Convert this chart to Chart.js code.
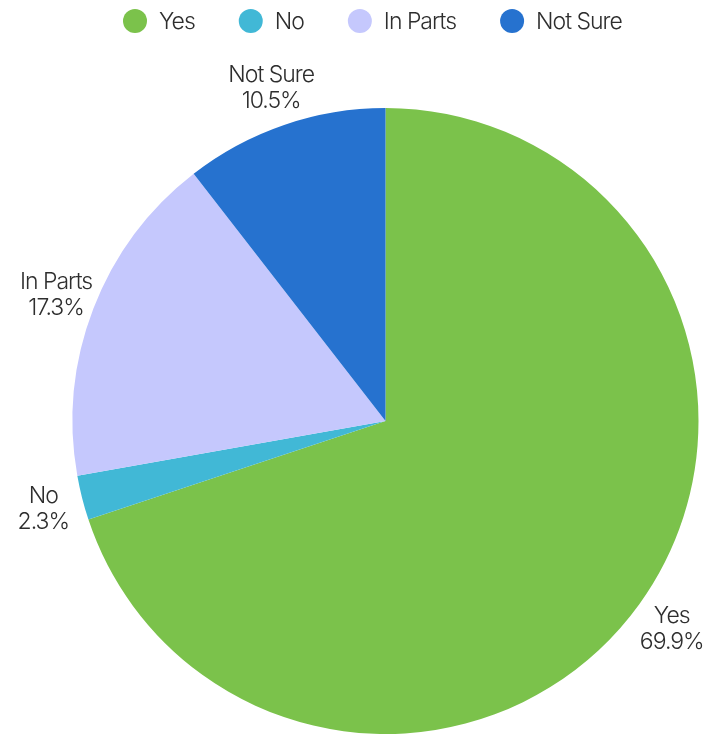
<!DOCTYPE html>
<html>
<head>
<meta charset="utf-8">
<script src="https://cdn.jsdelivr.net/npm/chart.js@4/dist/chart.umd.min.js"></script>
<style>
  html, body { margin: 0; padding: 0; background: #ffffff; }
  #wrap { width: 713px; height: 735px; }
</style>
</head>
<body>
<div id="wrap"><canvas id="answers-chart"></canvas></div>
<script>
// survey answers, share of responses in percent
const categories = ['Yes', 'No', 'In Parts', 'Not Sure'];
const shares = [69.9, 2.3, 17.3, 10.5];
const sliceColors = ['#7bc24b', '#41b8d6', '#c5c8fd', '#2672cf'];

const FONT = '300 23px Inter, "Liberation Sans", sans-serif';
const TEXT_COLOR = '#2e2e2e';

// legend row across the top: dot, name, wide gap
const legendRow = {
    id: 'legendRow',
    afterDraw(chart) {
        const ctx = chart.ctx;
        ctx.save();
        ctx.font = FONT;
        ctx.letterSpacing = '-1px';
        ctx.textBaseline = 'middle';
        ctx.textAlign = 'left';
        let x = 123;
        const y = 21;
        categories.forEach(function (name, i) {
            ctx.fillStyle = sliceColors[i];
            ctx.beginPath();
            ctx.arc(x + 12, y, 12, 0, Math.PI * 2);
            ctx.fill();
            ctx.fillStyle = TEXT_COLOR;
            ctx.fillText(name, x + 36, y + 1);
            x += 36 + ctx.measureText(name).width + 44;
        });
        ctx.restore();
    }
};

// name + percentage outside every slice, at its middle angle
const outsideLabels = {
    id: 'outsideLabels',
    afterDatasetsDraw(chart) {
        const ctx = chart.ctx;
        const arcs = chart.getDatasetMeta(0).data;
        ctx.save();
        ctx.font = FONT;
        ctx.letterSpacing = '-1px';
        ctx.fillStyle = TEXT_COLOR;
        ctx.textAlign = 'center';
        ctx.textBaseline = 'middle';
        arcs.forEach(function (arc, i) {
            const p = arc.getProps(['x', 'y', 'startAngle', 'endAngle', 'outerRadius'], true);
            const mid = (p.startAngle + p.endAngle) / 2;
            const dist = p.outerRadius + 40;
            const lx = p.x + Math.cos(mid) * dist;
            const ly = p.y + Math.sin(mid) * dist;
            ctx.fillText(categories[i], lx, ly - 12);
            ctx.fillText(shares[i].toFixed(1) + '%', lx, ly + 14);
        });
        ctx.restore();
    }
};

const ctx = document.getElementById('answers-chart').getContext('2d');
new Chart(ctx, {
    type: 'pie',
    data: {
        labels: categories,
        datasets: [{
            data: shares,
            backgroundColor: sliceColors,
            borderWidth: 0
        }]
    },
    options: {
        responsive: true,
        maintainAspectRatio: false,
        animation: false,
        rotation: 0,
        layout: {
            padding: { top: 108, left: 72, right: 14, bottom: 1 }
        },
        plugins: {
            legend: { display: false },
            tooltip: { enabled: false }
        }
    },
    plugins: [outsideLabels, legendRow]
});
</script>
</body>
</html>
